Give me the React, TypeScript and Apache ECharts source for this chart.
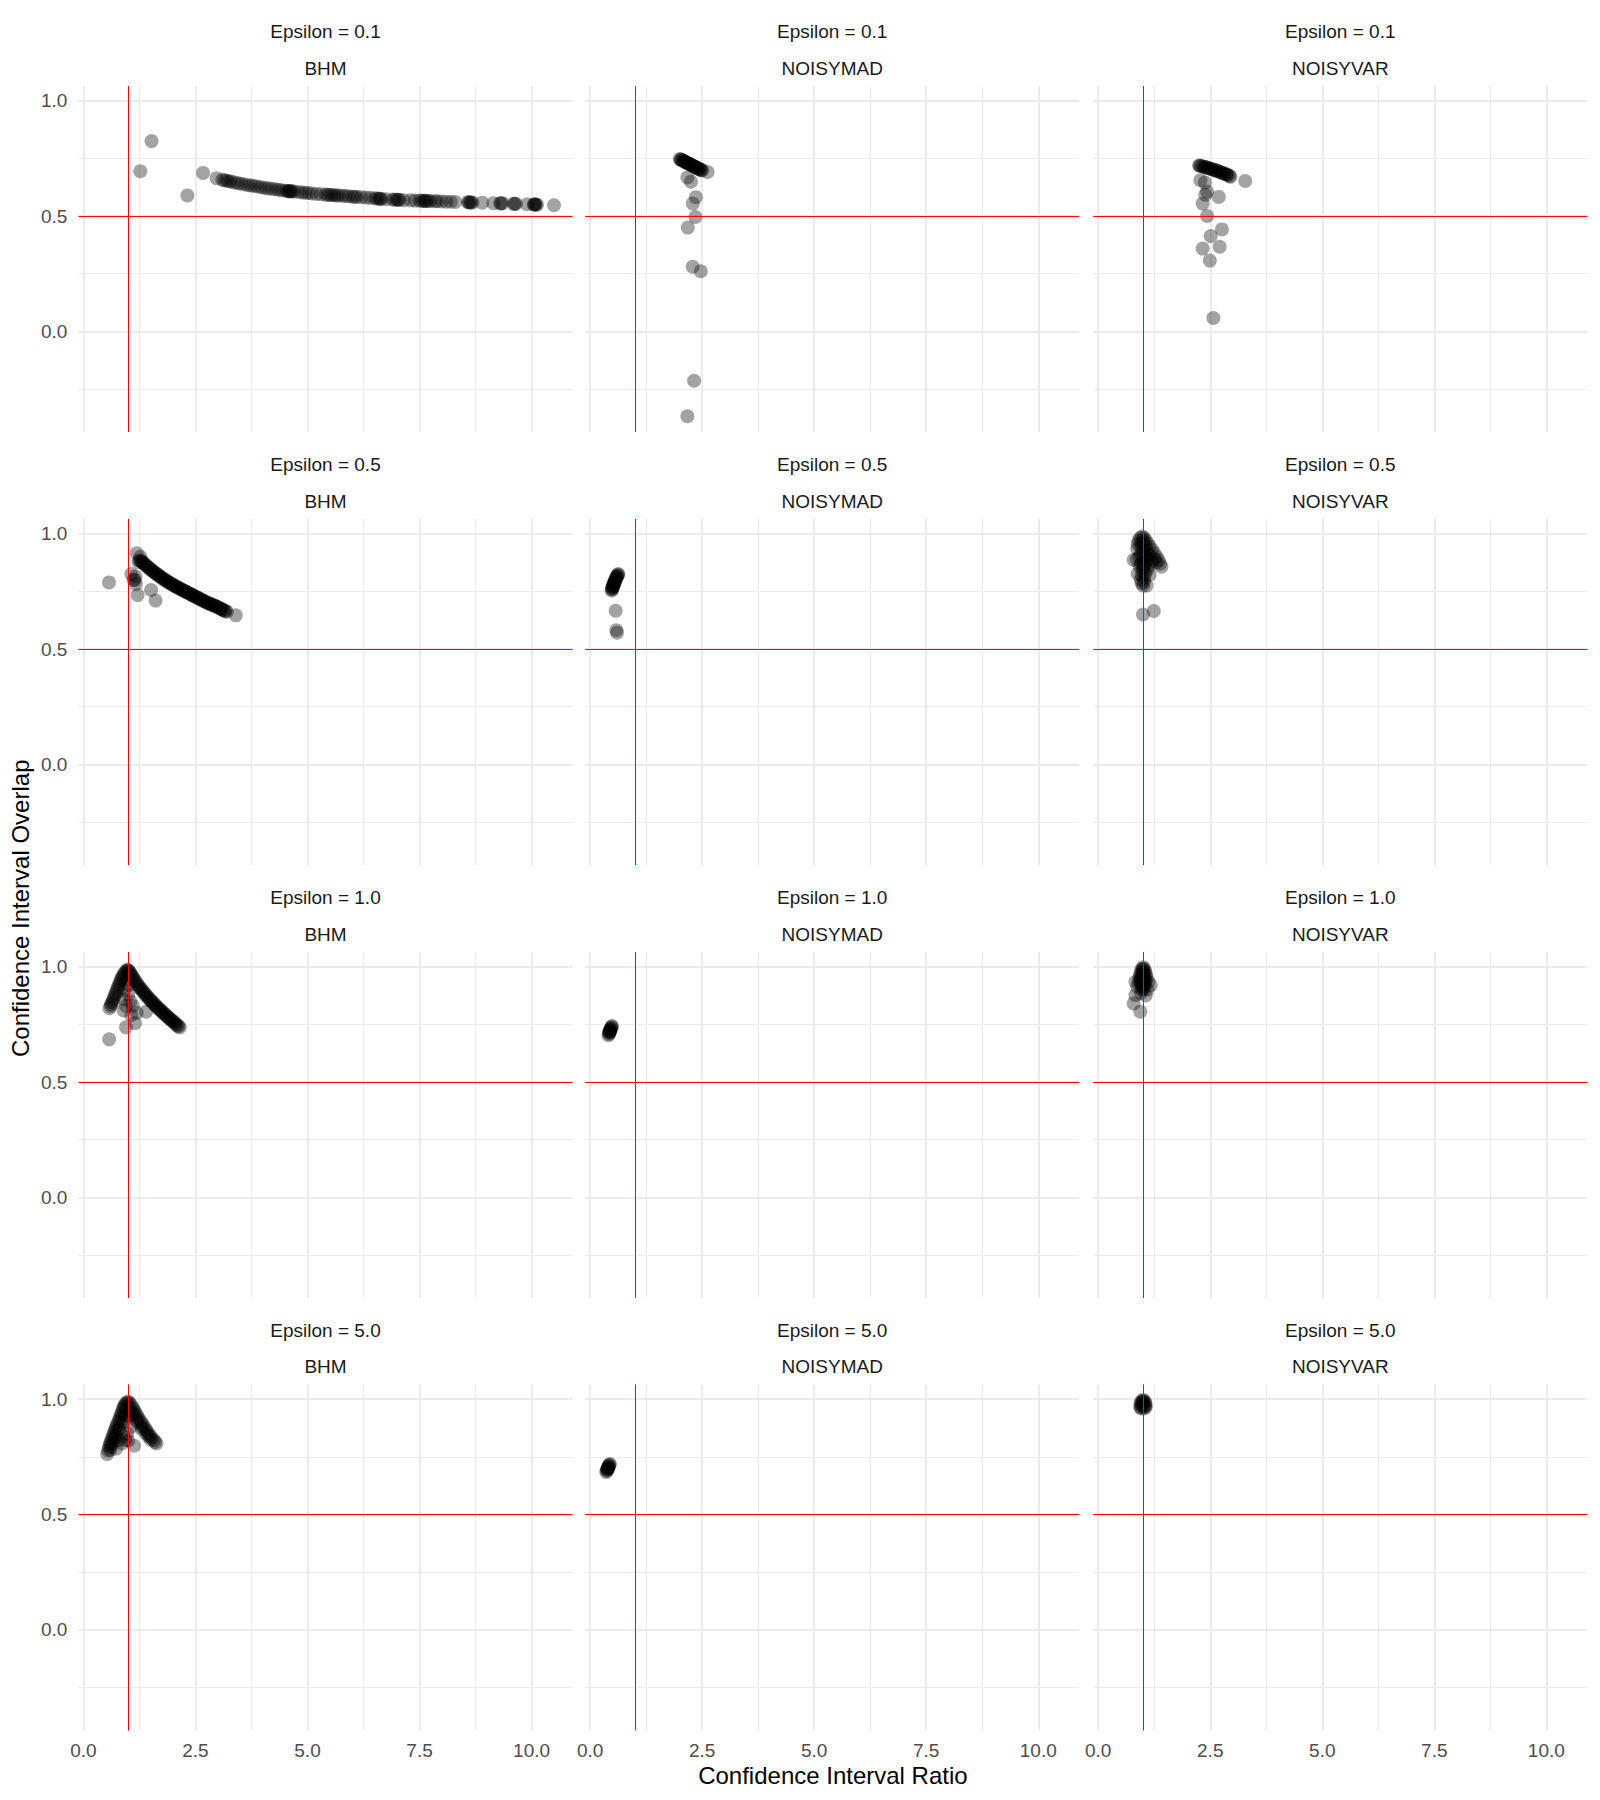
import React, { useEffect, useRef } from 'react';
import * as echarts from 'echarts';

// ---------- labels & ticks ----------
const EPSILONS = ['0.1', '0.5', '1.0', '5.0'];
const METHODS = ['BHM', 'NOISYMAD', 'NOISYVAR'];
const X_TICKS = [0, 2.5, 5, 7.5, 10];
const X_MINOR = [1.25, 3.75, 6.25, 8.75];
const Y_TICKS = [0, 0.5, 1.0];
const Y_MINOR = [-0.25, 0.25, 0.75];
const REF_X = 1;
const REF_Y = 0.5;
const X_RANGE = [-0.112, 10.916];
const Y_RANGE = [-0.436, 1.0637];
const X_TITLE = 'Confidence Interval Ratio';
const Y_TITLE = 'Confidence Interval Overlap';

// ---------- data: [ratio, overlap] ----------
const BHM_EPS01: number[][] = [
  [1.27, 0.694], [1.52, 0.825], [2.32, 0.589], [2.67, 0.687], [2.97, 0.664],
  [3.1, 0.657], [3.15, 0.655], [3.2, 0.653], [3.25, 0.651], [3.3, 0.649], [3.38, 0.645],
  [3.45, 0.642], [3.52, 0.64], [3.6, 0.637], [3.68, 0.634], [3.75, 0.632], [3.82, 0.63],
  [3.9, 0.627], [3.97, 0.625], [4.05, 0.622], [4.12, 0.62], [4.2, 0.618], [4.28, 0.616],
  [4.35, 0.614], [4.42, 0.612], [4.5, 0.61], [4.55, 0.609], [4.58, 0.608], [4.6, 0.608],
  [4.62, 0.607], [4.65, 0.607], [4.7, 0.606], [4.8, 0.604], [4.88, 0.602], [4.95, 0.601],
  [5.02, 0.6], [5.1, 0.598], [5.2, 0.596], [5.3, 0.595], [5.4, 0.593], [5.45, 0.592],
  [5.5, 0.592], [5.55, 0.591], [5.6, 0.59], [5.65, 0.589], [5.7, 0.589], [5.78, 0.588],
  [5.85, 0.587], [5.92, 0.586], [6.0, 0.584], [6.05, 0.584], [6.1, 0.583], [6.2, 0.582],
  [6.3, 0.58], [6.4, 0.579], [6.5, 0.577], [6.55, 0.576], [6.6, 0.575], [6.62, 0.575],
  [6.65, 0.574], [6.75, 0.573], [6.9, 0.572], [6.95, 0.571], [7.0, 0.571], [7.02, 0.571],
  [7.05, 0.57], [7.15, 0.569], [7.3, 0.568], [7.4, 0.567], [7.5, 0.567], [7.55, 0.566],
  [7.6, 0.566], [7.62, 0.566], [7.65, 0.565], [7.7, 0.565], [7.75, 0.565], [7.85, 0.564],
  [7.9, 0.564], [8.0, 0.563], [8.1, 0.562], [8.2, 0.562], [8.3, 0.561], [8.58, 0.56],
  [8.6, 0.56], [8.62, 0.559], [8.65, 0.559], [8.68, 0.559], [8.9, 0.558], [9.15, 0.556],
  [9.3, 0.555], [9.32, 0.555], [9.35, 0.555], [9.6, 0.553], [9.62, 0.553], [9.65, 0.553],
  [9.9, 0.551], [10.05, 0.55], [10.06, 0.55], [10.08, 0.55], [10.1, 0.55], [10.12, 0.549],
  [10.5, 0.547],
];
const NOISYMAD_EPS01: number[][] = [
  [2.0, 0.747], [2.02, 0.745], [2.05, 0.742], [2.08, 0.739], [2.1, 0.737], [2.13, 0.734],
  [2.16, 0.731], [2.18, 0.729], [2.2, 0.727], [2.23, 0.724], [2.26, 0.721], [2.28, 0.719],
  [2.3, 0.717], [2.33, 0.714], [2.36, 0.711], [2.38, 0.709], [2.4, 0.707], [2.43, 0.704],
  [2.46, 0.701], [2.48, 0.699], [2.5, 0.698], [2.04, 0.744], [2.12, 0.735], [2.21, 0.726],
  [2.31, 0.716], [2.42, 0.705], [2.62, 0.691],
  [2.17, 0.667], [2.25, 0.649], [2.36, 0.582], [2.29, 0.554], [2.35, 0.496], [2.18, 0.45],
  [2.29, 0.28], [2.47, 0.261], [2.32, -0.214], [2.17, -0.368],
];
const NOISYVAR_EPS01: number[][] = [
  [2.25, 0.719], [2.29, 0.717], [2.33, 0.715], [2.37, 0.713], [2.41, 0.711], [2.45, 0.708],
  [2.49, 0.706], [2.53, 0.703], [2.57, 0.701], [2.61, 0.698], [2.65, 0.696], [2.69, 0.693],
  [2.73, 0.69], [2.77, 0.687], [2.81, 0.684], [2.85, 0.681], [2.89, 0.678], [2.93, 0.674],
  [2.95, 0.67], [2.27, 0.718], [2.39, 0.712], [2.51, 0.705], [2.63, 0.697], [2.75, 0.689],
  [2.87, 0.68], [3.28, 0.652],
  [2.28, 0.655], [2.38, 0.645], [2.43, 0.606], [2.39, 0.592], [2.69, 0.583], [2.33, 0.554],
  [2.43, 0.5], [2.76, 0.442], [2.51, 0.413], [2.33, 0.359], [2.71, 0.367], [2.49, 0.307],
  [2.57, 0.058],
];
const BHM_EPS05: number[][] = [
  [0.57, 0.789], [1.07, 0.825], [1.15, 0.799], [1.16, 0.814], [1.17, 0.782], [1.21, 0.734],
  [1.19, 0.915], [1.23, 0.877], [1.12, 0.8], [1.27, 0.9], [1.51, 0.756], [1.61, 0.71],
  [1.25, 0.885], [1.28, 0.882], [1.3, 0.88], [1.32, 0.876], [1.35, 0.871], [1.37, 0.867],
  [1.4, 0.862], [1.42, 0.858], [1.45, 0.854], [1.47, 0.85], [1.5, 0.846], [1.52, 0.842],
  [1.55, 0.838], [1.57, 0.834], [1.6, 0.83], [1.62, 0.827], [1.65, 0.823], [1.67, 0.82],
  [1.7, 0.816], [1.72, 0.813], [1.75, 0.809], [1.77, 0.806], [1.8, 0.802], [1.82, 0.799],
  [1.85, 0.796], [1.87, 0.793], [1.9, 0.79], [1.92, 0.787], [1.95, 0.784], [1.97, 0.781],
  [2.0, 0.778], [2.02, 0.776], [2.05, 0.773], [2.07, 0.77], [2.1, 0.768], [2.12, 0.765],
  [2.15, 0.762], [2.17, 0.76], [2.2, 0.757], [2.22, 0.755], [2.25, 0.752], [2.27, 0.75],
  [2.3, 0.747], [2.32, 0.745], [2.35, 0.742], [2.37, 0.74], [2.4, 0.737], [2.42, 0.735],
  [2.45, 0.732], [2.47, 0.73], [2.5, 0.727], [2.52, 0.725], [2.55, 0.722], [2.57, 0.72],
  [2.6, 0.717], [2.62, 0.715], [2.65, 0.712], [2.67, 0.71], [2.7, 0.707], [2.72, 0.705],
  [2.75, 0.702], [2.77, 0.7], [2.8, 0.698], [2.82, 0.696], [2.85, 0.694], [2.87, 0.692],
  [2.9, 0.69], [2.92, 0.688], [2.95, 0.686], [2.97, 0.684], [3.0, 0.681], [3.02, 0.679],
  [3.05, 0.676], [3.07, 0.674], [3.1, 0.671], [3.12, 0.669], [3.15, 0.666], [3.17, 0.664],
  [3.2, 0.662], [3.4, 0.646],
];
const NOISYMAD_EPS05: number[][] = [
  [0.48, 0.754], [0.49, 0.762], [0.5, 0.77], [0.52, 0.778], [0.53, 0.786], [0.55, 0.794],
  [0.57, 0.802], [0.59, 0.81], [0.61, 0.818], [0.63, 0.825], [0.5, 0.765], [0.54, 0.79],
  [0.58, 0.812], [0.52, 0.772], [0.49, 0.758], [0.51, 0.775], [0.56, 0.798], [0.6, 0.815],
  [0.62, 0.822], [0.55, 0.785], [0.57, 0.666], [0.585, 0.582], [0.6, 0.571],
];
const NOISYVAR_EPS05: number[][] = [
  [0.98, 0.988], [0.94, 0.982], [1.02, 0.982], [0.9, 0.97], [1.06, 0.972], [0.88, 0.955],
  [1.1, 0.958], [0.87, 0.935], [1.15, 0.945], [1.2, 0.93], [1.25, 0.915], [1.3, 0.9],
  [1.35, 0.885], [1.38, 0.87], [1.41, 0.857], [0.86, 0.89], [0.92, 0.9], [1.0, 0.92],
  [1.05, 0.9], [1.1, 0.89], [0.95, 0.87], [1.02, 0.86], [1.12, 0.86], [0.88, 0.826],
  [0.98, 0.84], [1.05, 0.83], [1.15, 0.822], [0.95, 0.8], [1.02, 0.792], [1.08, 0.775],
  [0.97, 0.785], [0.79, 0.886], [1.0, 0.95], [0.96, 0.94], [0.95, 0.96], [1.0, 0.97],
  [1.05, 0.95], [1.0, 0.9], [0.95, 0.91], [1.08, 0.93], [1.12, 0.91], [1.17, 0.9],
  [1.2, 0.88], [1.25, 0.89], [1.3, 0.875], [1.0, 0.88], [0.92, 0.86], [1.05, 0.87],
  [1.0, 0.85], [1.1, 0.845], [0.97, 0.82], [1.03, 0.81], [1.0, 0.775],
  [1.0, 0.65], [1.24, 0.665],
];
const BHM_EPS10: number[][] = [
  [0.98, 0.988], [1.0, 0.984], [1.02, 0.98], [1.04, 0.974], [1.06, 0.968], [1.08, 0.961],
  [1.1, 0.955], [1.12, 0.948], [1.15, 0.94], [1.17, 0.933], [1.2, 0.925], [1.22, 0.919],
  [1.25, 0.912], [1.27, 0.906], [1.3, 0.9], [1.32, 0.895], [1.35, 0.888], [1.37, 0.883],
  [1.4, 0.876], [1.42, 0.871], [1.45, 0.865], [1.47, 0.86], [1.5, 0.854], [1.52, 0.85],
  [1.55, 0.844], [1.57, 0.84], [1.6, 0.834], [1.62, 0.83], [1.65, 0.824], [1.67, 0.82],
  [1.7, 0.815], [1.72, 0.811], [1.75, 0.806], [1.77, 0.802], [1.8, 0.797], [1.82, 0.793],
  [1.85, 0.788], [1.87, 0.784], [1.9, 0.779], [1.92, 0.775], [1.95, 0.771], [1.97, 0.767],
  [2.0, 0.763], [2.02, 0.759], [2.05, 0.754], [2.07, 0.75], [2.1, 0.745], [2.12, 0.741],
  [2.15, 0.737], [0.96, 0.982], [0.93, 0.975], [0.9, 0.968], [0.88, 0.96], [0.86, 0.952],
  [0.84, 0.945], [0.82, 0.935], [0.8, 0.925], [0.78, 0.915], [0.76, 0.905], [0.74, 0.895],
  [0.72, 0.885], [0.7, 0.875], [0.68, 0.865], [0.66, 0.855], [0.64, 0.845], [0.62, 0.838],
  [0.61, 0.83], [0.58, 0.82], [0.95, 0.94], [1.0, 0.92], [0.92, 0.9], [1.0, 0.88],
  [0.9, 0.86], [1.05, 0.85], [0.95, 0.83], [1.1, 0.83], [0.9, 0.81], [1.07, 0.79],
  [1.19, 0.8], [1.4, 0.805], [1.15, 0.755], [0.95, 0.737], [0.575, 0.685],
];
const NOISYMAD_EPS10: number[][] = [
  [0.41, 0.703], [0.42, 0.709], [0.43, 0.714], [0.44, 0.72], [0.45, 0.725], [0.46, 0.73],
  [0.47, 0.735], [0.48, 0.739], [0.49, 0.743], [0.44, 0.716], [0.45, 0.728], [0.43, 0.72],
];
const NOISYVAR_EPS10: number[][] = [
  [1.0, 0.998], [0.97, 0.99], [1.03, 0.99], [0.95, 0.978], [1.05, 0.978], [0.93, 0.965],
  [1.07, 0.965], [0.92, 0.95], [1.08, 0.952], [1.12, 0.935], [1.17, 0.92], [0.9, 0.935],
  [0.83, 0.935], [0.95, 0.93], [1.0, 0.94], [1.05, 0.925], [0.97, 0.915], [1.03, 0.905],
  [0.98, 0.9], [1.1, 0.9], [0.87, 0.913], [1.06, 0.875], [0.83, 0.877], [0.95, 0.885],
  [0.79, 0.841], [0.94, 0.805], [1.0, 0.96], [1.0, 0.98], [1.0, 0.99], [0.98, 0.97],
  [1.02, 0.97], [0.96, 0.95], [1.04, 0.95], [0.98, 0.93], [1.02, 0.92], [1.0, 0.91],
  [1.06, 0.94], [0.94, 0.94], [1.0, 0.95],
];
const BHM_EPS50: number[][] = [
  [0.53, 0.762], [0.55, 0.778], [0.57, 0.794], [0.59, 0.805], [0.61, 0.815], [0.63, 0.826],
  [0.65, 0.837], [0.67, 0.848], [0.69, 0.859], [0.71, 0.87], [0.73, 0.88], [0.75, 0.891],
  [0.78, 0.902], [0.8, 0.913], [0.82, 0.924], [0.84, 0.935], [0.86, 0.945], [0.88, 0.956],
  [0.9, 0.967], [0.92, 0.973], [0.94, 0.98], [0.97, 0.986], [1.0, 0.99], [1.03, 0.983],
  [1.07, 0.974], [1.1, 0.963], [1.13, 0.952], [1.16, 0.942], [1.19, 0.931], [1.22, 0.92],
  [1.26, 0.909], [1.3, 0.898], [1.33, 0.887], [1.37, 0.876], [1.4, 0.866], [1.44, 0.855],
  [1.48, 0.844], [1.52, 0.834], [1.57, 0.823], [1.6, 0.815], [1.63, 0.808],
  [0.6, 0.78], [0.66, 0.81], [0.72, 0.84], [0.78, 0.87], [0.84, 0.9], [0.9, 0.93],
  [0.95, 0.955], [1.1, 0.94], [1.2, 0.91], [1.3, 0.88], [1.4, 0.85], [1.5, 0.825],
  [0.73, 0.786], [0.86, 0.808], [0.98, 0.851], [1.13, 0.798], [0.94, 0.823], [0.61, 0.794],
  [0.78, 0.822], [0.7, 0.83], [0.8, 0.87], [0.9, 0.9], [0.95, 0.93], [1.03, 0.95],
  [1.1, 0.93], [1.2, 0.9], [1.3, 0.87], [1.45, 0.84], [1.05, 0.88], [0.88, 0.84],
  [1.0, 0.82],
];
const NOISYMAD_EPS50: number[][] = [
  [0.36, 0.684], [0.37, 0.69], [0.38, 0.695], [0.39, 0.7], [0.4, 0.704], [0.41, 0.708],
  [0.42, 0.712], [0.43, 0.716], [0.44, 0.719], [0.39, 0.694], [0.41, 0.702],
];
const NOISYVAR_EPS50: number[][] = [
  [1.0, 0.997], [0.97, 0.992], [1.03, 0.992], [0.95, 0.985], [1.05, 0.985], [0.94, 0.975],
  [1.06, 0.975], [0.94, 0.965], [1.06, 0.965], [1.0, 0.98], [0.98, 0.97], [1.02, 0.96],
  [0.96, 0.96], [1.04, 0.97], [1.0, 0.99],
];

const PANELS: number[][][][] = [
  [BHM_EPS01, NOISYMAD_EPS01, NOISYVAR_EPS01],
  [BHM_EPS05, NOISYMAD_EPS05, NOISYVAR_EPS05],
  [BHM_EPS10, NOISYMAD_EPS10, NOISYVAR_EPS10],
  [BHM_EPS50, NOISYMAD_EPS50, NOISYVAR_EPS50],
];

// ---------- layout ----------
const COL_LEFT = [78.4, 585.1, 1093.2];
const PANEL_W = 494.2;
const ROW_TOP = [86, 519, 952, 1384.5];
const PANEL_H = 346;
const FONT = '"Liberation Sans", Arial, Helvetica, sans-serif';

function buildOption() {
  const grid: any[] = [];
  const xAxis: any[] = [];
  const yAxis: any[] = [];
  const series: any[] = [];
  const graphic: any[] = [];

  PANELS.forEach((row, r) => {
    row.forEach((pts, c) => {
      const i = r * 3 + c;
      grid.push({ left: COL_LEFT[c], top: ROW_TOP[r], width: PANEL_W, height: PANEL_H, containLabel: false });
      xAxis.push({
        gridIndex: i, type: 'value', min: X_RANGE[0], max: X_RANGE[1],
        axisLine: { show: false }, axisTick: { show: false }, splitLine: { show: false },
        axisLabel: {
          show: r === 3, customValues: X_TICKS, formatter: (v: number) => v.toFixed(1),
          color: '#4D4D4D', fontSize: 19, fontFamily: FONT, margin: 10,
        },
      });
      yAxis.push({
        gridIndex: i, type: 'value', min: Y_RANGE[0], max: Y_RANGE[1],
        axisLine: { show: false }, axisTick: { show: false }, splitLine: { show: false },
        axisLabel: {
          show: c === 0, customValues: Y_TICKS, formatter: (v: number) => v.toFixed(1),
          color: '#4D4D4D', fontSize: 19, fontFamily: FONT, margin: 11,
        },
      });
      const major = { color: '#EBEBEB', width: 2, type: 'solid' };
      const minor = { color: '#EBEBEB', width: 1, type: 'solid' };
      series.push({
        type: 'scatter', xAxisIndex: i, yAxisIndex: i, data: [], z: 0, silent: true,
        markLine: {
          silent: true, z: 0, symbol: ['none', 'none'], label: { show: false },
          animation: false,
          data: [
            ...X_TICKS.map((v) => ({ xAxis: v, lineStyle: major })),
            ...X_MINOR.map((v) => ({ xAxis: v, lineStyle: minor })),
            ...Y_TICKS.map((v) => ({ yAxis: v, lineStyle: major })),
            ...Y_MINOR.map((v) => ({ yAxis: v, lineStyle: minor })),
          ],
        },
      });
      series.push({
        type: 'scatter', xAxisIndex: i, yAxisIndex: i, data: pts, z: 2,
        symbol: 'circle', symbolSize: 14, silent: true,
        itemStyle: { color: 'rgba(0,0,0,0.45)' },
        markLine: {
          silent: true, z: 5, symbol: ['none', 'none'], label: { show: false },
          animation: false,
          lineStyle: { color: '#FF0000', width: 1, type: 'solid' },
          data: [{ xAxis: REF_X }, { yAxis: REF_Y }],
        },
      });
      const cx = COL_LEFT[c] + PANEL_W / 2;
      graphic.push({
        type: 'text', x: cx, y: ROW_TOP[r] - 54.3,
        style: { text: `Epsilon = ${EPSILONS[r]}`, fill: '#1A1A1A', fontSize: 19, fontFamily: FONT, align: 'center', verticalAlign: 'middle' },
      });
      graphic.push({
        type: 'text', x: cx, y: ROW_TOP[r] - 17.7,
        style: { text: METHODS[c], fill: '#1A1A1A', fontSize: 19, fontFamily: FONT, align: 'center', verticalAlign: 'middle' },
      });
    });
  });

  const plotLeft = COL_LEFT[0];
  const plotRight = COL_LEFT[2] + PANEL_W;
  const plotTop = ROW_TOP[0];
  const plotBottom = ROW_TOP[3] + PANEL_H;
  graphic.push({
    type: 'text', x: (plotLeft + plotRight) / 2, y: 1775,
    style: { text: X_TITLE, fill: '#000000', fontSize: 24, fontFamily: FONT, align: 'center', verticalAlign: 'middle' },
  });
  graphic.push({
    type: 'text', x: 20.7, y: (plotTop + plotBottom) / 2, rotation: Math.PI / 2,
    style: { text: Y_TITLE, fill: '#000000', fontSize: 24, fontFamily: FONT, align: 'center', verticalAlign: 'middle' },
  });

  return {
    animation: false,
    backgroundColor: '#FFFFFF',
    grid, xAxis, yAxis, series, graphic,
  };
}

export default function App() {
  const ref = useRef<HTMLDivElement>(null);
  useEffect(() => {
    if (!ref.current) return;
    const chart = echarts.init(ref.current, undefined, { renderer: 'svg' });
    chart.setOption(buildOption() as any);
    return () => chart.dispose();
  }, []);
  return <div ref={ref} style={{ position: 'absolute', left: 0, top: 0, width: 1600, height: 1800 }} />;
}
